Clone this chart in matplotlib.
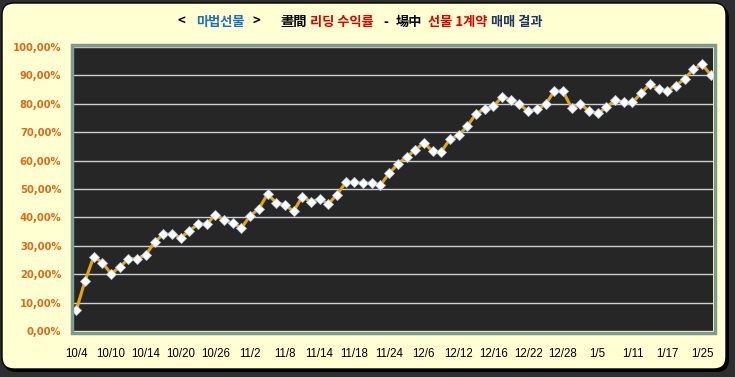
import matplotlib
matplotlib.use("Agg")
import matplotlib.pyplot as plt
from matplotlib.patches import FancyBboxPatch, Rectangle
from matplotlib.transforms import IdentityTransform

# ---- data ----
returns = [7.4, 17.7, 26.1, 24.1, 20.1, 22.6, 25.4, 25.4, 26.9, 31.2,
           34.1, 34.1, 32.9, 35.2, 37.7, 37.7, 40.8, 39.2, 37.9, 36.3,
           40.6, 43.0, 48.2, 45.2, 44.4, 42.2, 47.3, 45.5, 46.5, 44.8,
           48.0, 52.3, 52.3, 52.1, 52.1, 51.4, 55.5, 58.8, 61.3, 63.7,
           66.3, 63.3, 63.1, 67.6, 68.9, 72.2, 76.5, 78.2, 79.1, 82.5,
           81.4, 79.9, 77.3, 78.0, 79.8, 84.5, 84.5, 78.5, 79.9, 77.5,
           76.6, 78.7, 81.4, 80.5, 80.5, 83.7, 86.9, 85.2, 84.5, 86.4,
           88.8, 92.1, 94.0, 90.2]
date_labels = ["10/4", "10/10", "10/14", "10/20", "10/26", "11/2", "11/8",
               "11/14", "11/18", "11/24", "12/6", "12/12", "12/16", "12/22",
               "12/28", "1/5", "1/11", "1/17", "1/25"]
label_step = 4
yticks = [0, 10, 20, 30, 40, 50, 60, 70, 80, 90, 100]

title_parts = [("<", "black", 10), ("마법선물", "#1b6fc2", 8), (">", "black", 20),
               ("晝間", "black", 4), ("리딩 수익률", "#e00000", 9), ("-", "black", 8),
               ("場中", "black", 5), ("선물 1계약", "#e00000", 4), ("매매 결과", "#1f3566", 0)]

W, H = 735, 377
fig = plt.figure(figsize=(W / 100, H / 100), dpi=100)
fig.patch.set_facecolor("#2e2e2e")

# outer frame with shadow
shadow = FancyBboxPatch((4, 5), 725, 366, boxstyle="round,pad=0,rounding_size=12",
                        transform=IdentityTransform(), facecolor="black", edgecolor="none", zorder=-3)
frame = FancyBboxPatch((2, 8), 724, 366, boxstyle="round,pad=0,rounding_size=12",
                       transform=IdentityTransform(), facecolor="#ffffd2", edgecolor="black",
                       linewidth=1, zorder=-2)
fig.patches.extend([shadow, frame])

ax = fig.add_axes([74 / W, 1 - 331 / H, (713 - 74) / W, (331 - 47) / H])
ax.set_facecolor("#262626")

x = list(range(len(returns)))
ax.plot(x, returns, color="#e8a800", linewidth=2.2, marker="D", markersize=5,
        markerfacecolor="white", markeredgecolor="#b8c8e0", markeredgewidth=0.6, zorder=3)

ax.set_xlim(-0.27, len(returns) - 1 + 0.27)
ax.set_ylim(0, 100)
ax.set_yticks(yticks)
ax.set_yticklabels([f"{v:.2f}".replace(".", ",") + "%" for v in yticks],
                   color="#e06818", fontweight="bold", fontsize=7.2, family="DejaVu Sans")
ax.set_xticks(x[::label_step][:len(date_labels)])
ax.set_xticklabels(date_labels, fontsize=8.3, family="Liberation Sans", color="black")
ax.tick_params(axis="y", length=0, pad=9)
ax.tick_params(axis="x", length=0, pad=12)
ax.grid(axis="y", color="#cfcfcf", linewidth=1)
ax.set_axisbelow(True)
for s in ax.spines.values():
    s.set_visible(False)

# checkered border around the plot area
border = Rectangle((72, H - 333), 643, 288, transform=IdentityTransform(), fill=False,
                   edgecolor="#7c9c8c", linewidth=2.5, zorder=5)
fig.patches.append(border)

# multi-coloured title
fig.canvas.draw()
renderer = fig.canvas.get_renderer()
xpos = 178
ty = 1 - 22 / H
for txt, col, gap in title_parts:
    t = fig.text(xpos / W, ty, txt, color=col, fontsize=9.5, fontweight="bold",
                 family=["Noto Sans CJK KR", "DejaVu Sans"], ha="left", va="center")
    bb = t.get_window_extent(renderer)
    xpos = bb.x1 + gap

fig.savefig("out.png", dpi=100, facecolor=fig.get_facecolor())
